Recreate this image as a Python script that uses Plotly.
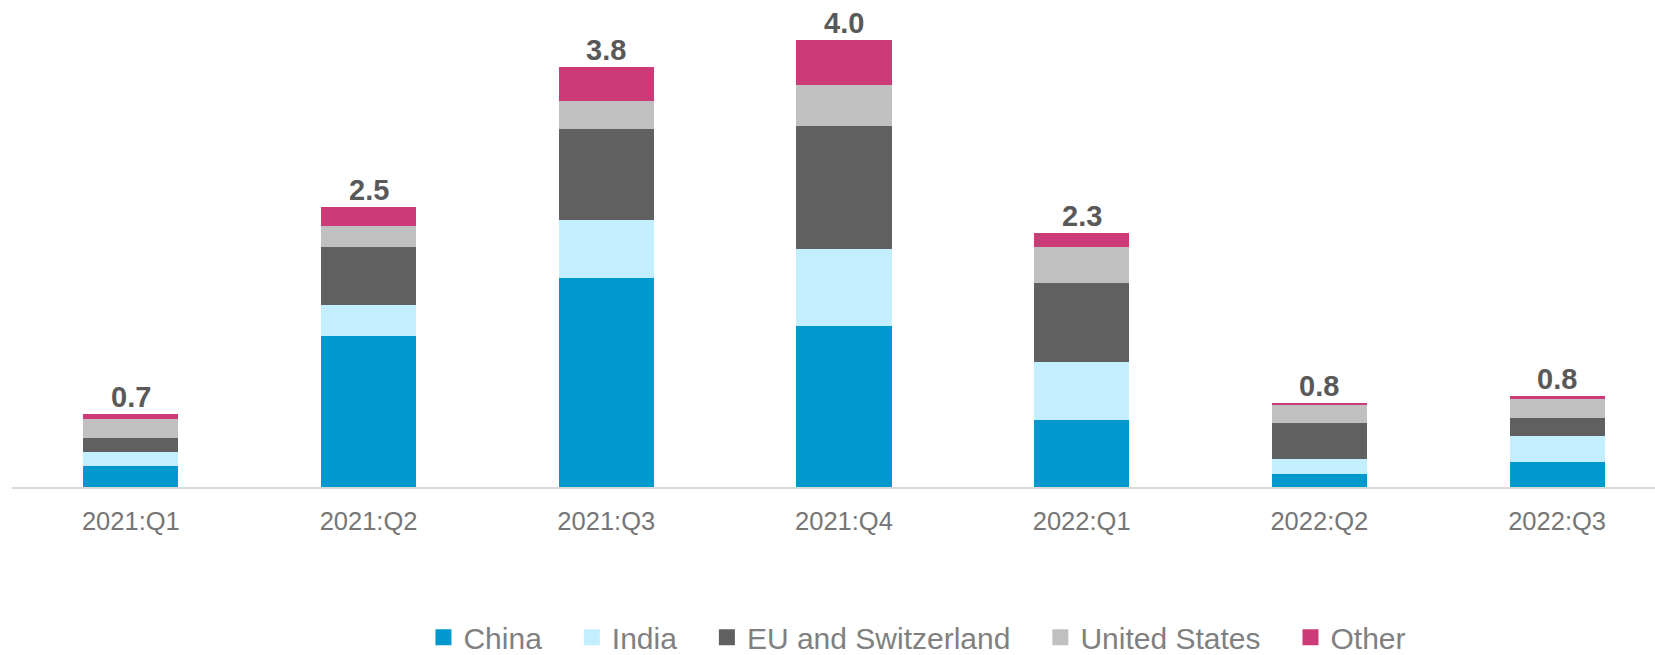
import plotly.graph_objects as go

quarters = ["2021:Q1", "2021:Q2", "2021:Q3", "2021:Q4", "2022:Q1", "2022:Q2", "2022:Q3"]
china = [0.19, 1.35, 1.87, 1.44, 0.60, 0.12, 0.22]
india = [0.12, 0.28, 0.52, 0.69, 0.52, 0.13, 0.24]
eu_switzerland = [0.13, 0.52, 0.81, 1.10, 0.71, 0.32, 0.16]
united_states = [0.17, 0.19, 0.25, 0.37, 0.32, 0.16, 0.17]
other = [0.04, 0.17, 0.31, 0.40, 0.12, 0.02, 0.02]
total_labels = ["0.7", "2.5", "3.8", "4.0", "2.3", "0.8", "0.8"]

series = [
    ("China", china, "#0098cd"),
    ("India", india, "#c3eefd"),
    ("EU and Switzerland", eu_switzerland, "#5f605f"),
    ("United States", united_states, "#bfc0bf"),
    ("Other", other, "#cc3a77"),
]

FONT = "Arial, Liberation Sans, sans-serif"
fig = go.Figure()
for name, vals, color in series:
    fig.add_trace(go.Bar(
        x=quarters, y=vals, name=name, width=0.4,
        marker=dict(color=color, line=dict(width=0)),
        showlegend=False,
    ))
for name, vals, color in series:
    fig.add_trace(go.Scatter(
        x=[None], y=[None], mode="markers", name=name + "\u00a0\u00a0\u00a0",
        marker=dict(symbol="square", size=16, color=color),
        showlegend=True,
    ))

totals = [sum(v) for v in zip(china, india, eu_switzerland, united_states, other)]
for q, t, lab in zip(quarters, totals, total_labels):
    fig.add_annotation(x=q, y=t, text=lab, showarrow=False, yanchor="bottom",
                       yshift=0, borderpad=0,
                       font=dict(family=FONT, size=29, color="#595959", weight="bold"))

fig.update_layout(
    barmode="stack",
    width=1655, height=655,
    margin=dict(l=12, r=0, t=20, b=168, autoexpand=False),
    plot_bgcolor="white", paper_bgcolor="white",
    font=dict(family=FONT),
    legend=dict(orientation="h", traceorder="normal", x=0.5587, xanchor="center",
                y=-0.322, yanchor="middle",
                font=dict(family=FONT, size=30, color="#808080")),
    xaxis=dict(range=[-0.5, 6.412], showline=True, linecolor="#d9d9d9", linewidth=2,
               showgrid=False, ticks="outside", ticklen=10, tickcolor="rgba(0,0,0,0)",
               tickfont=dict(family=FONT, size=25.5, color="#767676")),
    yaxis=dict(range=[0, 4.179], visible=False, showgrid=False),
)

fig.write_html("out.html", config={"displayModeBar": False},
               post_script="document.body.style.margin='0px';")
